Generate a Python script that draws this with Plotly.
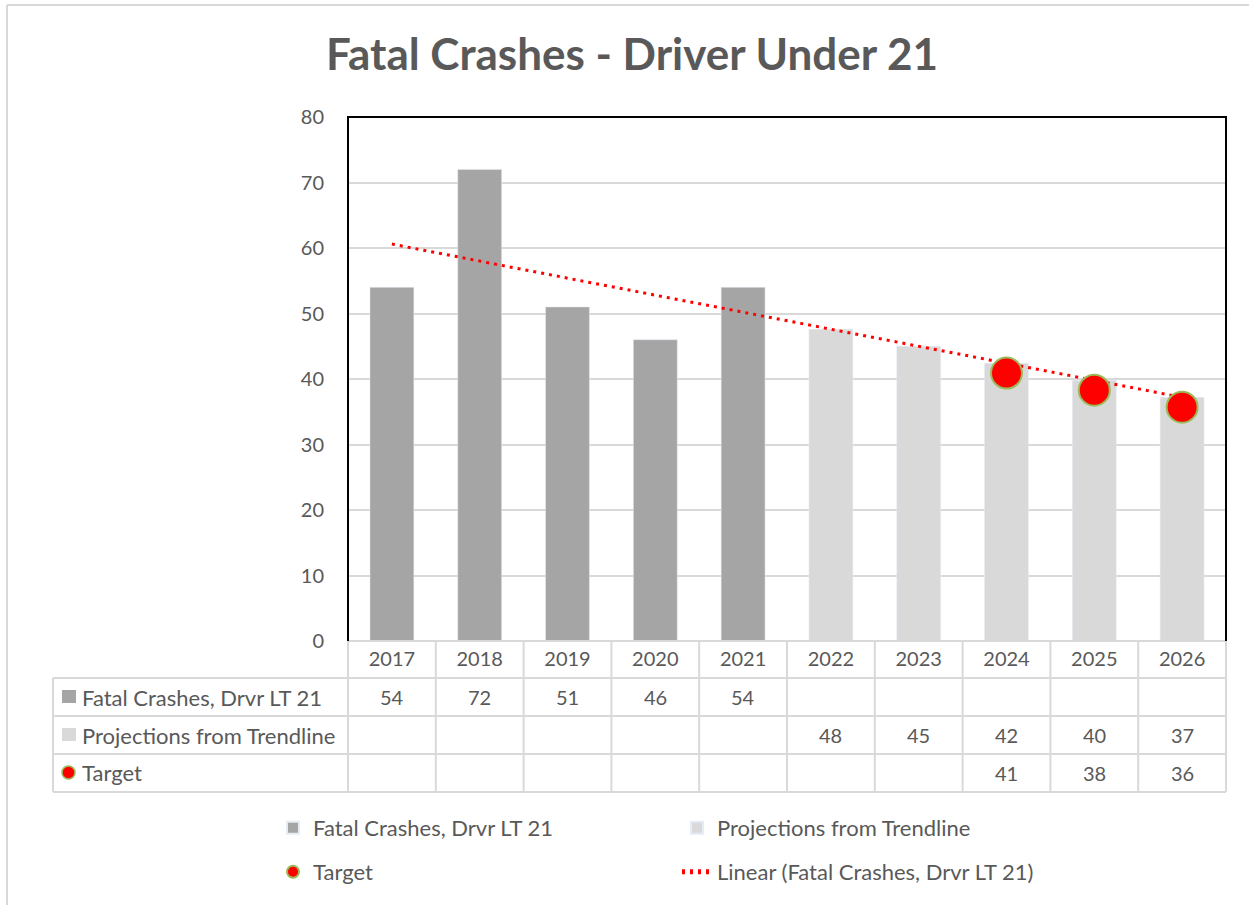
import plotly.graph_objects as go

# ---------------- data ----------------
years = ["2017", "2018", "2019", "2020", "2021", "2022", "2023", "2024", "2025", "2026"]
fatal_crashes = [54, 72, 51, 46, 54, None, None, None, None, None]
projections = [None, None, None, None, None, 47.6, 45.0, 42.4, 39.8, 37.2]
targets = [None, None, None, None, None, None, None, 40.9, 38.3, 35.7]
trend_years = ["2017", "2026"]
trend_values = [60.6, 37.2]

row_names = ["Fatal Crashes, Drvr LT 21", "Projections from Trendline", "Target"]
trend_name = "Linear (Fatal Crashes, Drvr LT 21)"
title_text = "Fatal Crashes - Driver Under 21"

# ---------------- style ----------------
FONT = "Lato, Carlito, Calibri, sans-serif"
TXT = "#595959"
DARK = "#a5a5a5"
LIGHT = "#d9d9d9"
GRID = "#d9d9d9"
RED = "#ff0000"
GREEN = "#9bbb59"

W, H = 1249, 905
L, R, T, B = 348, 23, 117, 264
PW, PH = W - L - R, H - T - B


def px_x(p):
    return (p - L) / PW


def px_y(p):
    return (H - B - p) / PH


fig = go.Figure()

fig.add_trace(go.Bar(x=years, y=fatal_crashes, name=row_names[0], marker_color=DARK,
                     width=0.5, legend="legend", legendrank=1))
fig.add_trace(go.Bar(x=years, y=projections, name=row_names[1], marker_color=LIGHT,
                     width=0.5, legend="legend", legendrank=2))
fig.add_trace(go.Scatter(x=trend_years, y=trend_values, name=trend_name,
                         mode="lines", line=dict(color=RED, width=3, dash="3px,5px"),
                         legend="legend2", legendrank=2))
fig.add_trace(go.Scatter(x=years, y=targets, name=row_names[2], mode="markers",
                         marker=dict(color=RED, size=31, line=dict(color=GREEN, width=2)),
                         legend="legend2", legendrank=1))

shapes = []
# outer chart border (top / left visible)
shapes.append(dict(type="line", xref="paper", yref="paper", x0=px_x(7), x1=px_x(W + 5),
                   y0=px_y(5), y1=px_y(5), line=dict(color=LIGHT, width=2)))
shapes.append(dict(type="line", xref="paper", yref="paper", x0=px_x(7), x1=px_x(7),
                   y0=px_y(5), y1=px_y(H + 5), line=dict(color=LIGHT, width=2)))

# data table grid
row_lines = [641, 678, 716, 754, 792]
tbl_left = px_x(53)
for i, ry in enumerate(row_lines):
    x0 = 0 if i == 0 else tbl_left
    shapes.append(dict(type="line", xref="paper", yref="paper", x0=x0, x1=1,
                       y0=px_y(ry), y1=px_y(ry), line=dict(color=LIGHT, width=2)))
shapes.append(dict(type="line", xref="paper", yref="paper", x0=tbl_left, x1=tbl_left,
                   y0=px_y(678), y1=px_y(792), line=dict(color=LIGHT, width=2)))
for xb in [0, 1]:
    shapes.append(dict(type="line", xref="paper", yref="paper", x0=xb, x1=xb,
                       y0=0, y1=px_y(792), line=dict(color=LIGHT, width=2)))
for k in range(len(years) - 1):
    shapes.append(dict(type="line", xref="x", yref="paper", x0=k + 0.5, x1=k + 0.5,
                       y0=0, y1=px_y(792), line=dict(color=LIGHT, width=2)))

# plot area black border (left, top, right)
shapes.append(dict(type="path", xref="paper", yref="paper",
                   path="M0,0 L0,1 L1,1 L1,0", line=dict(color="black", width=2)))

# row-header symbols in the table
shapes.append(dict(type="rect", xref="paper", yref="paper", x0=px_x(62), x1=px_x(76),
                   y0=px_y(690), y1=px_y(703), fillcolor=DARK, line=dict(width=0)))
shapes.append(dict(type="rect", xref="paper", yref="paper", x0=px_x(62), x1=px_x(76),
                   y0=px_y(728), y1=px_y(741), fillcolor=LIGHT, line=dict(width=0)))
shapes.append(dict(type="circle", xref="paper", yref="paper", x0=px_x(62), x1=px_x(75),
                   y0=px_y(766), y1=px_y(779), fillcolor=RED, line=dict(color=GREEN, width=1.5)))

annotations = []
row_centers = [697, 735, 773]
for name, cy in zip(row_names, row_centers):
    annotations.append(dict(text=name, xref="paper", yref="paper", x=px_x(80), y=px_y(cy),
                            xanchor="left", yanchor="middle", showarrow=False,
                            font=dict(family=FONT, size=22, color=TXT)))
for series, cy in zip([fatal_crashes, projections, targets], row_centers):
    for idx, v in enumerate(series):
        if v is None:
            continue
        annotations.append(dict(text=str(int(round(v))), xref="x", yref="paper", x=idx, y=px_y(cy),
                                xanchor="center", yanchor="middle", showarrow=False,
                                font=dict(family=FONT, size=20, color=TXT)))

legend_common = dict(orientation="h", xanchor="left", yanchor="middle",
                     font=dict(family=FONT, size=22, color=TXT),
                     entrywidth=359, entrywidthmode="pixels", bgcolor="rgba(0,0,0,0)",
                     itemsizing="constant")

fig.update_layout(
    width=W, height=H,
    margin=dict(l=L, r=R, t=T, b=B, autoexpand=False),
    paper_bgcolor="white", plot_bgcolor="white",
    barmode="overlay",
    title=dict(text="<b>" + title_text + "</b>", x=632 / W, xanchor="center", xref="container",
               y=1 - 55 / H, yanchor="middle", yref="container",
               font=dict(family=FONT, size=44, color=TXT)),
    xaxis=dict(type="category", categoryorder="array", categoryarray=years,
               showgrid=False, zeroline=False, showline=False,
               ticks="", ticklabelstandoff=4,
               tickfont=dict(family=FONT, size=20, color=TXT), range=[-0.5, 9.5]),
    yaxis=dict(range=[0, 80], dtick=10, showgrid=True, gridcolor=GRID, gridwidth=2,
               zeroline=False, showline=False,
               ticks="outside", ticklen=19, tickcolor="rgba(0,0,0,0)",
               tickfont=dict(family=FONT, size=20, color=TXT)),
    legend=dict(x=px_x(273), y=px_y(828), **legend_common),
    legend2=dict(x=px_x(273), y=px_y(872), **legend_common),
    shapes=shapes,
    annotations=annotations,
)

fig.write_html("out.html", config={"displayModeBar": False},
               post_script="document.body.style.margin='0px';")
